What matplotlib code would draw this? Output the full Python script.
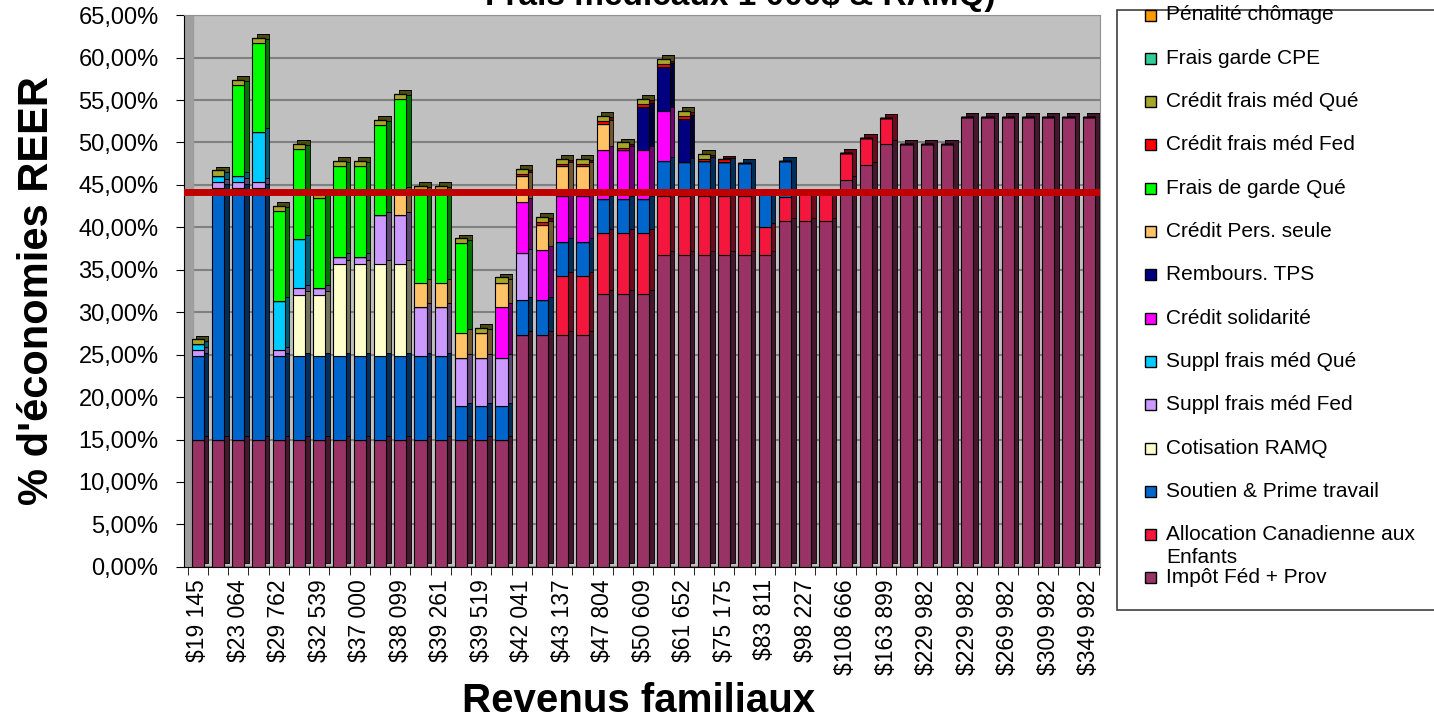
import matplotlib
matplotlib.use('Agg')
import matplotlib.pyplot as plt
import matplotlib.patches as mpatches
import matplotlib.colors as mcolors
import numpy as np

plt.rcParams['font.family'] = ['Liberation Sans', 'DejaVu Sans']

# libellés de l'axe x (une barre sur deux)
revenus = ["$19 145", "$23 064", "$29 762", "$32 539", "$37 000", "$38 099",
           "$39 261", "$39 519", "$42 041", "$43 137", "$47 804", "$50 609",
           "$61 652", "$75 175", "$83 811", "$98 227", "$108 666", "$163 899",
           "$229 982", "$229 982", "$269 982", "$309 982", "$349 982"]

# composantes (% d'économies REER), 45 barres
impot = [15.0, 15.0, 15.0, 15.0, 15.0, 15.0, 15.0, 15.0, 15.0, 15.0, 15.0, 15.0, 15.0, 15.0, 15.0,
         15.0, 27.3, 27.3, 27.3, 27.3, 32.2, 32.2, 32.2, 36.8, 36.8, 36.8, 36.8, 36.8, 36.8, 40.7,
         40.7, 40.7, 45.6, 47.3, 49.8, 49.8, 49.8, 49.8, 53.0, 53.0, 53.0, 53.0, 53.0, 53.0, 53.0]
allocation = [0, 0, 0, 0, 0, 0, 0, 0, 0, 0, 0, 0, 0, 0, 0,
              0, 0, 0, 7.0, 7.0, 7.1, 7.1, 7.1, 6.9, 6.9, 6.9, 6.9, 6.9, 3.3, 2.9,
              3.2, 3.2, 3.2, 3.2, 3.1, 0, 0, 0, 0, 0, 0, 0, 0, 0, 0]
soutien = [9.8, 29.6, 29.6, 29.6, 9.8, 9.8, 9.8, 9.8, 9.8, 9.8, 9.8, 9.8, 9.8, 3.9, 3.9,
           3.9, 4.1, 4.1, 4.0, 4.0, 4.0, 4.0, 4.0, 4.1, 4.0, 4.1, 4.0, 3.9, 4.0, 4.2,
           0, 0, 0, 0, 0, 0, 0, 0, 0, 0, 0, 0, 0, 0, 0]
ramq = [0, 0, 0, 0, 0, 7.2, 7.2, 10.9, 10.9, 10.9, 10.9, 0, 0, 0, 0,
        0, 0, 0, 0, 0, 0, 0, 0, 0, 0, 0, 0, 0, 0, 0,
        0, 0, 0, 0, 0, 0, 0, 0, 0, 0, 0, 0, 0, 0, 0]
suppl_fed = [0.7, 0.7, 0.8, 0.8, 0.7, 0.8, 0.8, 0.8, 0.8, 5.7, 5.7, 5.8, 5.8, 5.7, 5.7,
             5.7, 5.6, 0, 0, 0, 0, 0, 0, 0, 0, 0, 0, 0, 0, 0,
             0, 0, 0, 0, 0, 0, 0, 0, 0, 0, 0, 0, 0, 0, 0]
suppl_que = [0.7, 0.8, 0.7, 5.8, 5.8, 5.8, 0, 0, 0, 0, 0, 0, 0, 0, 0,
             0, 0, 0, 0, 0, 0, 0, 0, 0, 0, 0, 0, 0, 0, 0,
             0, 0, 0, 0, 0, 0, 0, 0, 0, 0, 0, 0, 0, 0, 0]
solidarite = [0, 0, 0, 0, 0, 0, 0, 0, 0, 0, 0, 0, 0, 0, 0,
              6.0, 6.0, 5.9, 5.4, 5.4, 5.8, 5.8, 5.8, 5.9, 0, 0, 0, 0, 0, 0,
              0, 0, 0, 0, 0, 0, 0, 0, 0, 0, 0, 0, 0, 0, 0]
tps = [0, 0, 0, 0, 0, 0, 0, 0, 0, 0, 0, 0, 0, 0, 0,
       0, 0, 0, 0, 0, 0, 0, 5.1, 5.2, 5.1, 0, 0, 0, 0, 0,
       0, 0, 0, 0, 0, 0, 0, 0, 0, 0, 0, 0, 0, 0, 0]
pers_seule = [0, 0, 0, 0, 0, 0, 0, 0, 0, 0, 2.9, 2.9, 2.9, 3.0, 3.0,
              2.9, 3.1, 3.0, 3.5, 3.5, 3.1, 0, 0, 0, 0, 0, 0, 0, 0, 0,
              0, 0, 0, 0, 0, 0, 0, 0, 0, 0, 0, 0, 0, 0, 0]
garde_que = [0, 0, 10.7, 10.5, 10.6, 10.6, 10.7, 10.7, 10.7, 10.7, 10.8, 10.8, 10.8, 10.5, 0,
             0, 0, 0, 0, 0, 0, 0, 0, 0, 0, 0, 0, 0, 0, 0,
             0, 0, 0, 0, 0, 0, 0, 0, 0, 0, 0, 0, 0, 0, 0]
med_fed = [0, 0, 0, 0, 0, 0, 0, 0, 0, 0, 0, 0, 0, 0, 0,
           0, 0.2, 0.3, 0.3, 0.3, 0.3, 0.3, 0.3, 0.3, 0.3, 0.3, 0.3, 0, 0, 0,
           0, 0, 0, 0, 0, 0, 0, 0, 0, 0, 0, 0, 0, 0, 0]
med_que = [0.6, 0.6, 0.6, 0.6, 0.6, 0.6, 0.6, 0.6, 0.6, 0.6, 0.6, 0.6, 0.6, 0.6, 0.6,
           0.6, 0.6, 0.6, 0.6, 0.6, 0.6, 0.6, 0.6, 0.6, 0.6, 0.6, 0, 0, 0, 0,
           0, 0, 0, 0, 0, 0, 0, 0, 0, 0, 0, 0, 0, 0, 0]
garde_cpe = [0] * 45
chomage = [0] * 45

seuil = 44.2

series = [
    ("Impôt Féd + Prov", impot, '#993366'),
    ("Allocation Canadienne aux\nEnfants", allocation, '#F5163E'),
    ("Soutien & Prime travail", soutien, '#0066CC'),
    ("Cotisation RAMQ", ramq, '#FFFFCC'),
    ("Suppl frais méd Fed", suppl_fed, '#CC99FF'),
    ("Suppl frais méd Qué", suppl_que, '#00CCFF'),
    ("Crédit solidarité", solidarite, '#FF00FF'),
    ("Rembours. TPS", tps, '#000080'),
    ("Crédit Pers. seule", pers_seule, '#FFC266'),
    ("Frais de garde Qué", garde_que, '#00FF00'),
    ("Crédit frais méd Fed", med_fed, '#FF0000'),
    ("Crédit frais méd Qué", med_que, '#A6A62A'),
    ("Frais garde CPE", garde_cpe, '#33CC99'),
    ("Pénalité chômage", chomage, '#FF9900'),
]

fig = plt.figure(figsize=(14.34, 7.23), dpi=100)
ax = fig.add_axes([0.128, 0.216, 0.639, 0.763])
ax.set_facecolor('#C0C0C0')

x = np.arange(len(impot))
w = 0.6
bottom = np.zeros(len(x))
for name, vals, col in series:
    v = np.array(vals, dtype=float)
    dark = tuple(c * 0.45 for c in mcolors.to_rgb(col))
    # face latérale / dessus pour l'effet 3D
    ax.bar(x + 0.22, v, w, bottom=bottom + 0.45, color=dark, edgecolor='black',
           linewidth=0.6, zorder=2)
    ax.bar(x, v, w, bottom=bottom, color=col, edgecolor='black', linewidth=0.8, zorder=3)
    bottom += v

ax.axhline(seuil, color='#C00000', lw=5, zorder=6)

ax.set_xlim(-0.7, 44.55)
ax.set_ylim(0, 65)
ax.axvspan(-0.7, -0.25, color='#9E9E9E', zorder=1)
ax.set_yticks(np.arange(0, 66, 5))
ax.yaxis.grid(True, color='#808080', lw=1.5, zorder=0)
ax.set_axisbelow(True)
ax.set_yticklabels([f"{v:.2f}".replace('.', ',') + '%' for v in np.arange(0, 66, 5)],
                   fontsize=17)
ax.tick_params(axis='y', length=6, direction='out', pad=12)

ax.set_xticks(x[::2])
ax.set_xticklabels(revenus, rotation=90, fontsize=16.5)
ax.set_xticks(np.arange(-0.5, 45, 1), minor=True)
ax.tick_params(axis='x', which='major', length=0, pad=9)
ax.tick_params(axis='x', which='minor', length=6)

for s in ['top', 'right']:
    ax.spines[s].set_color('#909090')
ax.spines['left'].set_color('black')
ax.spines['bottom'].set_color('black')

ax.set_ylabel("% d'économies REER", fontsize=30, fontweight='bold', labelpad=15)
fig.text(0.445, 0.03, "Revenus familiaux", fontsize=29, fontweight='bold',
         ha='center', va='center')
fig.text(0.516, 1 - 5 / 723, "Frais médicaux 1 000$ & RAMQ)", fontsize=24,
         fontweight='bold', ha='center', va='baseline')

# légende dessinée à la main (ordre inverse, comme Excel)
lx0 = 1117 / 1434
fig.add_artist(mpatches.Rectangle((lx0, (723 - 610) / 723), 0.3, 600 / 723,
                                  transform=fig.transFigure, facecolor='white',
                                  edgecolor='#404040', lw=1.2))
step = 43.3
for k, (name, vals, col) in enumerate(series[::-1]):
    yc = 1 - (15 + step * k) / 723
    fig.add_artist(mpatches.Rectangle((1145 / 1434, yc - 5.5 / 723), 11 / 1434, 11 / 723,
                                      transform=fig.transFigure, facecolor=col,
                                      edgecolor='black', lw=1))
    lines = name.split('\n')
    for j, ln in enumerate(lines):
        fig.text(1166 / 1434, yc - j * 23 / 723, ln, fontsize=15, va='center', ha='left')

fig.savefig('out.png', dpi=100)
